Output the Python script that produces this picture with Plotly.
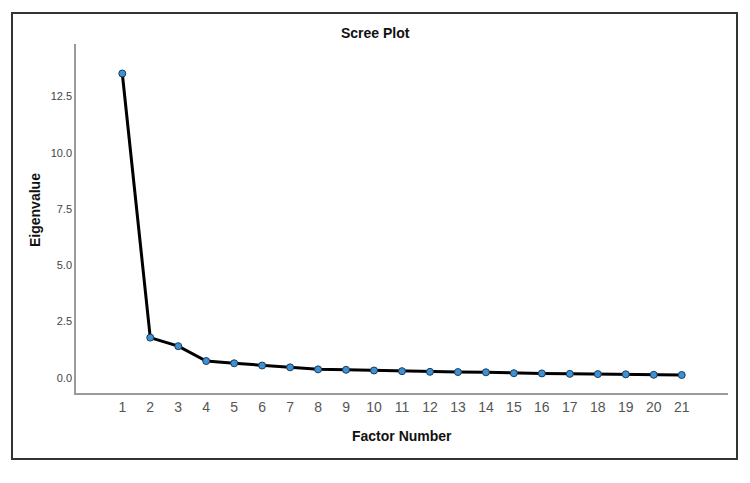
import plotly.graph_objects as go

factors = list(range(1, 22))
eigenvalues = [13.52, 1.79, 1.41, 0.75, 0.65, 0.55, 0.47, 0.38, 0.36, 0.33,
               0.30, 0.27, 0.26, 0.25, 0.21, 0.20, 0.18, 0.17, 0.16, 0.14, 0.13]
y_ticks = [0.0, 2.5, 5.0, 7.5, 10.0, 12.5]
y_tick_labels = ["0.0", "2.5", "5.0", "7.5", "10.0", "12.5"]

fig = go.Figure()
fig.add_trace(go.Scatter(
    x=factors, y=eigenvalues, mode="lines+markers",
    line=dict(color="black", width=3),
    marker=dict(color="#3d92d6", size=7, line=dict(color="#1d3a55", width=1)),
    showlegend=False, hoverinfo="x+y",
))

fig.update_layout(
    width=750, height=483,
    margin=dict(l=76, r=22, t=44, b=90),
    paper_bgcolor="white", plot_bgcolor="white",
    font=dict(family="Liberation Sans, Arial, sans-serif", color="#222"),
    xaxis=dict(range=[-0.655, 22.655], tickmode="array", tickvals=factors,
               ticktext=[str(f) for f in factors], showgrid=False, zeroline=False,
               showline=True, linecolor="#9a9a9a", linewidth=1.5, ticks="",
               tickfont=dict(size=14, color="#555"), fixedrange=True),
    yaxis=dict(range=[-0.67, 14.83], tickmode="array", tickvals=y_ticks,
               ticktext=y_tick_labels, showgrid=False, zeroline=False,
               showline=True, linecolor="#9a9a9a", linewidth=1.5, ticks="",
               tickfont=dict(size=11, color="#444"), fixedrange=True),
    annotations=[
        dict(text="<b>Scree Plot</b>", xref="paper", yref="paper",
             x=(375 - 76) / 652, y=(393 - 33) / 349, showarrow=False,
             xanchor="center", yanchor="middle", font=dict(size=14, color="#111")),
        dict(text="<b>Factor Number</b>", xref="paper", yref="paper",
             x=(402 - 76) / 652, y=(393 - 436) / 349, showarrow=False,
             xanchor="center", yanchor="middle", font=dict(size=14, color="#111")),
        dict(text="<b>Eigenvalue</b>", xref="paper", yref="paper",
             x=(35 - 76) / 652, y=(393 - 210) / 349, showarrow=False, textangle=-90,
             xanchor="center", yanchor="middle", font=dict(size=14, color="#111")),
    ],
    shapes=[
        dict(type="rect", xref="paper", yref="paper",
             x0=(12 - 76) / 652, x1=(737 - 76) / 652,
             y0=(393 - 459) / 349, y1=(393 - 13) / 349,
             line=dict(color="#333", width=2), fillcolor="rgba(0,0,0,0)"),
    ],
)

fig.write_html("out.html")
